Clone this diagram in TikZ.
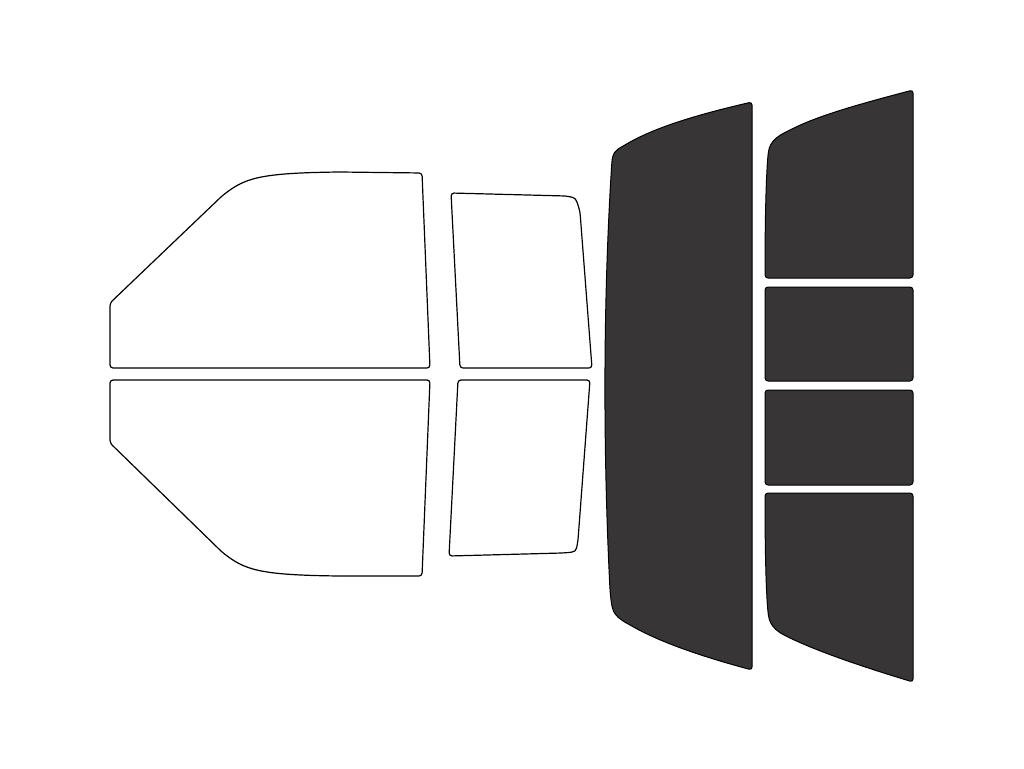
\documentclass[tikz,border=0pt]{standalone}
\usetikzlibrary{positioning}
\definecolor{tint}{HTML}{373536}
\tikzset{clear/.style={draw=black, line width=1.2pt, fill=white, rounded corners=3pt},
         dark/.style={draw=black, line width=1pt, fill=tint, rounded corners=3pt}}
\begin{document}
\begin{tikzpicture}[x=1pt,y=-1pt]
    \useasboundingbox (0,0) rectangle (1024,768);
    % front door
    \draw[clear] (110,368) -- (430,368) -- (422,173) -- (340,172)
        .. controls (260,173) and (245,178) .. (222,196) -- (110,303) -- cycle;
    \draw[clear] (110,380) -- (430,380) -- (422,576) -- (340,576)
        .. controls (260,575) and (245,570) .. (222,552) -- (110,443) -- cycle;
    % rear door
    \draw[clear] (451,193) -- (566,196) .. controls (576,198) .. (580,212) -- (592,368) -- (460,368) -- cycle;
    \draw[clear] (458,380) -- (590,380) -- (578,540) .. controls (576,552) .. (562,553) -- (449,556) -- cycle;
    % back glass
    \draw[dark] (752,400) -- (752,670)
        .. controls (700,656) and (660,642) .. (630,625)
        .. controls (612,615) and (612,610) .. (610,590)
        .. controls (603,450) and (603,300) .. (612,160)
        .. controls (614,150) and (620,148) .. (630,142)
        .. controls (660,126) and (700,114) .. (752,102) -- cycle;
    % right side
    \draw[dark] (913,278) -- (765,278)
        .. controls (765,220) and (766,180) .. (768,155)
        .. controls (770,140) and (780,135) .. (790,130)
        .. controls (820,115) and (860,104) .. (913,90) -- cycle;
    \draw[dark] (765,287) rectangle (913,381);
    \draw[dark] (765,390) rectangle (913,485);
    \draw[dark] (913,493) -- (765,493)
        .. controls (765,550) and (766,590) .. (768,612)
        .. controls (770,628) and (780,633) .. (790,638)
        .. controls (820,652) and (860,666) .. (913,682) -- cycle;
\end{tikzpicture}
\end{document}
